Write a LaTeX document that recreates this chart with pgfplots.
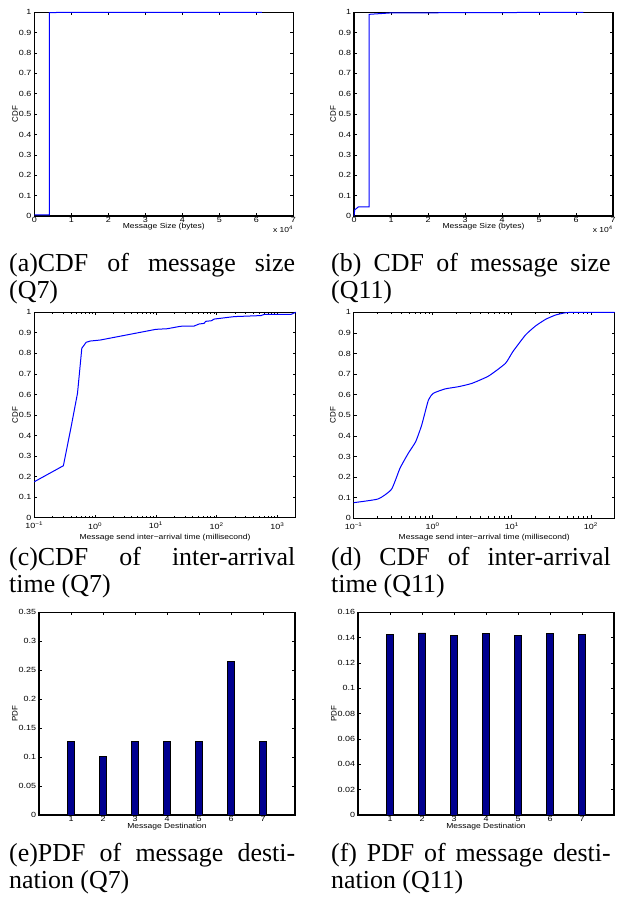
\documentclass[border=0pt]{standalone}
\usepackage{pgfplots}
\pgfplotsset{compat=1.18}
\usepackage{fontspec}
\setmainfont{Liberation Serif}
\newfontfamily\arial{Liberation Sans}
\definecolor{navy}{rgb}{0,0,0.5625}
\newcommand{\tickfont}{\arial\fontsize{7.5}{8}\selectfont}
\newcommand{\labfont}{\arial\fontsize{7.3}{8}\selectfont}
\newcommand{\ylabfont}{\arial\fontsize{8}{9}\selectfont}
\newcommand{\capfont}{\fontsize{26}{27}\selectfont}
\pgfplotsset{
  mat/.style={
    scale only axis,
    anchor=north west,
    axis line style={line width=1.1bp},
    every tick/.style={black, line width=0.7bp},
    tick align=inside,
    major tick length=3bp,
    minor tick length=1.8bp,
    tick label style={font=\tickfont, xscale=1.2, /pgf/number format/assume math mode=true},
    xticklabel style={inner sep=0pt, yshift=-1.5bp},
    yticklabel style={inner sep=0pt, xshift=-2.2bp},
    xlabel style={font=\labfont, xscale=1.17, at={(rel axis cs:0.5,0)}, anchor=north, inner sep=0pt, yshift=-7.3bp},
    ylabel style={font=\ylabfont},
    scaled ticks=false,
    clip=false,
  },
  cdfline/.style={blue, line width=1bp, mark=none},
  cdfy/.style={ymin=0, ymax=1, ytick={0,0.1,0.2,0.3,0.4,0.5,0.6,0.7,0.8,0.9,1},
    yticklabels={0,0.1,0.2,0.3,0.4,0.5,0.6,0.7,0.8,0.9,1}, ylabel={CDF}},
  sizex/.style={xmin=0, xmax=7, xtick={0,1,2,3,4,5,6,7}, xticklabels={0,1,2,3,4,5,6,7},
    xlabel={Message Size (bytes)}},
  logx/.style={xmin=0.1,
    xlabel={Message send inter−arrival time (millisecond)},
    xticklabel style={yshift=-3bp},
    xlabel style={yshift=-8.6bp}},
  destx/.style={xmin=0, xmax=8, xtick={1,2,3,4,5,6,7}, xticklabels={1,2,3,4,5,6,7},
    xlabel={Message Destination}, ylabel={PDF}, xlabel style={yshift=-0.3bp}},
  pbar/.style={ybar, bar width=0.22, bar shift=0pt, fill=navy, draw=black, line width=0.7bp},
}
\begin{document}
\begin{tikzpicture}
\useasboundingbox (0,0) rectangle (618bp,903bp);

% (a)
\begin{axis}[mat, sizex, cdfy, at={(34.3bp,890.7bp)}, width=259bp, height=203.7bp,
  ylabel style={at={(axis description cs:-0.0745,0.5)}, anchor=center, inner sep=0pt}]
\addplot[cdfline] coordinates {(0,0.005) (0.41,0.005) (0.41,0.998) (0.6,0.999) (6.15,1)};
\node[anchor=north east, font=\labfont, xscale=1.17, inner sep=0pt, yshift=-9.5bp] at (rel axis cs:1,0) {x 10\textsuperscript{4}};
\end{axis}

% (b)
\begin{axis}[mat, sizex, cdfy, at={(354bp,890.7bp)}, width=259bp, height=203.7bp,
  ylabel style={at={(axis description cs:-0.081,0.5)}, anchor=center, inner sep=0pt}]
\addplot[cdfline] coordinates {(0,0) (0.02,0.03) (0.12,0.045) (0.41,0.045) (0.41,0.99) (1.0,0.997) (6.2,1)};
\node[anchor=north east, font=\labfont, xscale=1.17, inner sep=0pt, yshift=-9.5bp] at (rel axis cs:1,0) {x 10\textsuperscript{4}};
\end{axis}

% (c)
\begin{axis}[xmode=log, mat, logx, cdfy, xmax=2000, at={(34.3bp,590.7bp)}, width=261.4bp, height=205.4bp,
  xtick={0.1,1,10,100,1000},
  xticklabels={10\textsuperscript{−1},10\textsuperscript{0},10\textsuperscript{1},10\textsuperscript{2},10\textsuperscript{3}},
  minor xtick={0.2,0.3,0.4,0.5,0.6,0.7,0.8,0.9,2,3,4,5,6,7,8,9,20,30,40,50,60,70,80,90,200,300,400,500,600,700,800,900},
  ylabel style={at={(axis description cs:-0.0738,0.5)}, anchor=center, inner sep=0pt}]
\addplot[cdfline] coordinates {
(0.1,0.175) (0.301,0.253) (0.404,0.443) (0.514,0.606) (0.605,0.825) (0.714,0.854)
(0.832,0.860) (1.22,0.865) (10,0.917) (15.4,0.920) (25.6,0.932) (42.5,0.933)
(51.4,0.943) (62.1,0.946) (66.2,0.956) (82.2,0.959) (91,0.967) (194.6,0.979)
(537,0.984) (610,0.990) (1682,0.990) (2000,1.0)};
\end{axis}

% (d)
\begin{axis}[xmode=log, mat, logx, cdfy, xmax=200, at={(353.7bp,590.7bp)}, width=261bp, height=206bp,
  xtick={0.1,1,10,100},
  xticklabels={10\textsuperscript{−1},10\textsuperscript{0},10\textsuperscript{1},10\textsuperscript{2}},
  minor xtick={0.2,0.3,0.4,0.5,0.6,0.7,0.8,0.9,2,3,4,5,6,7,8,9,20,30,40,50,60,70,80,90,200},
  ylabel style={at={(axis description cs:-0.0793,0.5)}, anchor=center, inner sep=0pt}]
\addplot[cdfline, smooth, tension=0.3] coordinates {
(0.1,0.076) (0.204,0.094) (0.301,0.141) (0.385,0.243) (0.491,0.316) (0.608,0.372)
(0.725,0.453) (0.881,0.574) (1.02,0.607) (1.43,0.628) (2.12,0.639) (3.13,0.655)
(5.1,0.691) (8.3,0.752) (10.3,0.809) (14.9,0.890) (20,0.934) (26.8,0.966)
(35.9,0.987) (48,0.998) (64.4,1.0) (200,1.0)};
\end{axis}

% (e)
\begin{axis}[mat, destx, at={(39bp,290.7bp)}, width=256bp, height=202.7bp,
  ymin=0, ymax=0.35, ytick={0,0.05,0.1,0.15,0.2,0.25,0.3,0.35},
  yticklabels={0,0.05,0.1,0.15,0.2,0.25,0.3,0.35},
  ylabel style={at={(axis description cs:-0.094,0.5)}, anchor=center, inner sep=0pt}]
\addplot[pbar] coordinates {(1,0.1266) (2,0.1013) (3,0.1266) (4,0.1266) (5,0.1266) (6,0.2654) (7,0.1266)};
\end{axis}

% (f)
\begin{axis}[mat, destx, at={(358bp,290.7bp)}, width=256bp, height=202.7bp,
  ymin=0, ymax=0.16, ytick={0,0.02,0.04,0.06,0.08,0.1,0.12,0.14,0.16},
  yticklabels={0,0.02,0.04,0.06,0.08,0.1,0.12,0.14,0.16},
  ylabel style={at={(axis description cs:-0.094,0.5)}, anchor=center, inner sep=0pt}]
\addplot[pbar] coordinates {(1,0.1424) (2,0.1437) (3,0.1418) (4,0.1432) (5,0.1418) (6,0.1434) (7,0.1426)};
\end{axis}

% captions
\begin{scope}[every node/.style={anchor=base west, inner sep=0pt, font=\capfont}]
\node at (9bp,631bp) {\makebox[286bp][s]{(a)CDF of message size}};
\node at (9bp,604.5bp) {(Q7)};
\node at (331bp,631bp) {\makebox[279.5bp][s]{(b) CDF of message size}};
\node at (331bp,604.5bp) {(Q11)};
\node at (9bp,337bp) {\makebox[286bp][s]{(c)CDF of inter-arrival}};
\node at (9bp,310.5bp) {time (Q7)};
\node at (331bp,337bp) {\makebox[279.5bp][s]{(d) CDF of inter-arrival}};
\node at (331bp,310.5bp) {time (Q11)};
\node at (9bp,41bp) {\makebox[286bp][s]{(e)PDF of message desti-}};
\node at (9bp,14.5bp) {nation (Q7)};
\node at (331bp,41bp) {\makebox[279.5bp][s]{(f) PDF of message desti-}};
\node at (331bp,14.5bp) {nation (Q11)};
\end{scope}
\end{tikzpicture}
\end{document}
